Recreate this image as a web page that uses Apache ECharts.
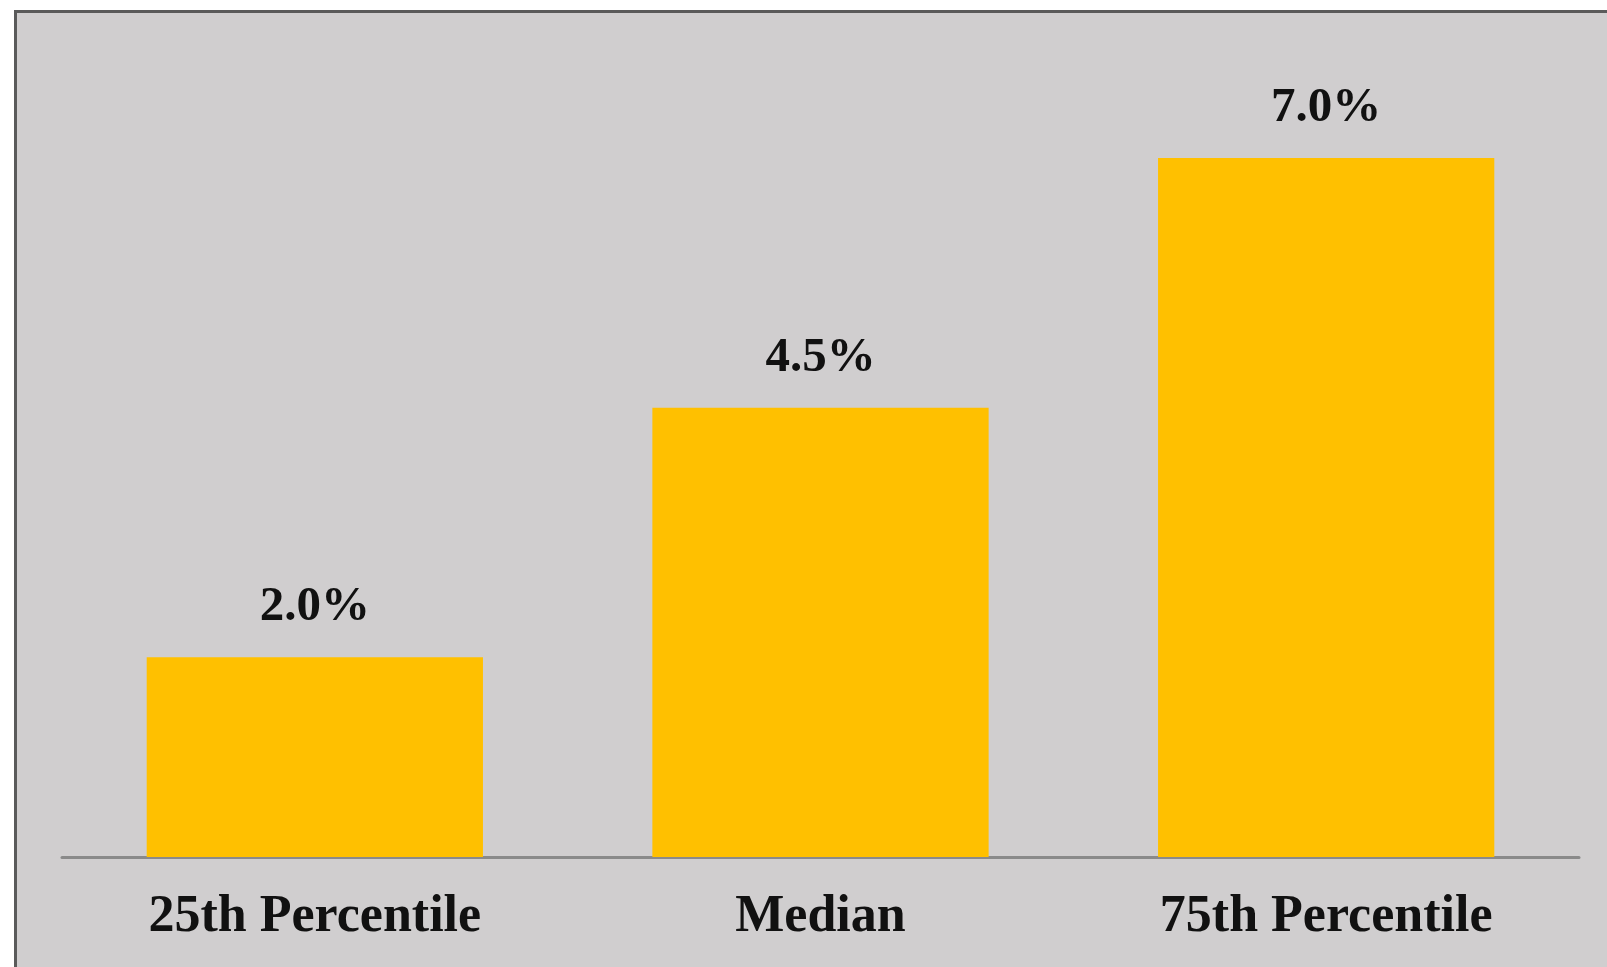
<!DOCTYPE html>
<html>
<head>
<meta charset="utf-8">
<script src="https://cdn.jsdelivr.net/npm/echarts@6.0.0/dist/echarts.min.js"></script>
<style>
  html, body { margin: 0; padding: 0; background: #fff; }
  #chart {
    position: absolute;
    left: 14px;
    top: 10px;
    width: 1590px;
    height: 954px;
    border-top: 3px solid #5a5a5a;
    border-left: 3px solid #5a5a5a;
    background: #d0cecf;
  }
</style>
</head>
<body>
<div id="chart"></div>
<script>
const categories = ['25th Percentile', 'Median', '75th Percentile'];
const values = [2.0, 4.5, 7.0];

const serif = '"Liberation Serif", "Times New Roman", serif';

const chart = echarts.init(document.getElementById('chart'));
chart.setOption({
  backgroundColor: '#d0cecf',
  animation: false,
  grid: { left: 45, right: 28, top: 145, bottom: 110 },
  xAxis: {
    type: 'category',
    data: categories,
    axisLine: { lineStyle: { color: '#8a8a8a', width: 3 } },
    axisTick: { show: false },
    axisLabel: {
      margin: 35,
      color: '#111',
      fontFamily: serif,
      fontWeight: 'bold',
      fontSize: 52
    }
  },
  yAxis: {
    type: 'value',
    min: 0,
    max: 7,
    show: false,
    splitLine: { show: false }
  },
  series: [{
    type: 'bar',
    data: values,
    barWidth: '66.5%',
    itemStyle: { color: '#ffc000' },
    label: {
      show: true,
      position: 'top',
      distance: 25,
      color: '#111',
      fontFamily: serif,
      fontWeight: 'bold',
      fontSize: 49,
      formatter: p => p.value.toFixed(1) + '%'
    }
  }]
});
</script>
</body>
</html>
